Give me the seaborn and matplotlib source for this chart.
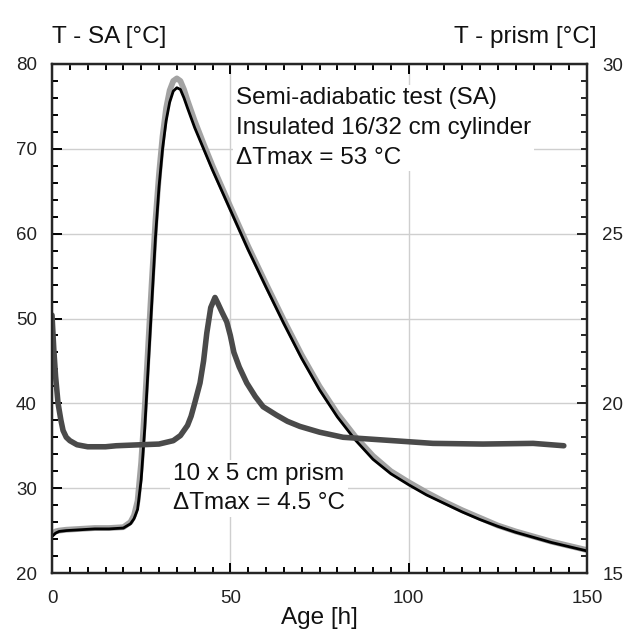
import matplotlib
matplotlib.use("Agg")
import matplotlib.pyplot as plt
from matplotlib.ticker import MultipleLocator
import seaborn as sns
import pandas as pd

# ---- data ----
age_sa = [0, 1, 2, 4, 8, 12, 16, 20, 22, 23, 24, 25, 26, 27, 28, 29, 30,
          31, 32, 33, 34, 35, 36, 37, 38, 40, 42.5, 45, 50, 55, 60, 65, 70,
          75, 80, 85, 90, 95, 100, 105, 110, 115, 120, 125, 130, 135, 140, 145, 150]
t_sa_model = [24.3, 24.7, 24.9, 25.0, 25.1, 25.2, 25.2, 25.3, 25.8, 26.4, 27.5, 31.0, 37.0,
              44.5, 52.0, 59.5, 65.5, 70.0, 73.3, 75.5, 76.8, 77.2, 77.0, 76.0, 74.8,
              72.5, 70.0, 67.5, 62.8, 58.1, 53.7, 49.4, 45.3, 41.6, 38.4, 35.7, 33.4,
              31.7, 30.4, 29.2, 28.2, 27.2, 26.3, 25.5, 24.8, 24.2, 23.6, 23.1, 22.6]
t_sa_meas = [24.6, 24.9, 25.0, 25.1, 25.2, 25.3, 25.3, 25.4, 26.0, 26.8, 28.5, 33.0, 39.5,
             47.0, 54.5, 61.5, 67.0, 71.5, 74.8, 76.9, 78.0, 78.3, 78.0, 77.0, 75.7,
             73.3, 70.6, 68.0, 63.2, 58.5, 54.1, 49.8, 45.7, 42.0, 38.8, 36.1, 33.8,
             32.0, 30.7, 29.5, 28.4, 27.4, 26.5, 25.6, 24.9, 24.3, 23.7, 23.2, 22.7]

age_prism = [0, 0.5, 1, 1.7, 2.5, 3.1, 4, 5, 7, 10, 15, 18, 25, 30, 32, 34, 36, 38, 39,
             40, 41.5, 42.5, 43.4, 44.5, 45.7, 46.5, 47.6, 49, 50, 51, 52.5, 54.6, 57,
             59.2, 63, 66, 69.5, 75, 81.6, 92.8, 106.8, 120.8, 134.9, 143.5]
t_prism = [22.6, 21.6, 20.8, 20.0, 19.5, 19.2, 19.0, 18.9, 18.78, 18.72, 18.72, 18.75,
           18.78, 18.8, 18.85, 18.9, 19.05, 19.35, 19.62, 20.0, 20.6, 21.25, 22.07,
           22.82, 23.12, 22.95, 22.7, 22.4, 22.0, 21.5, 21.07, 20.6, 20.2, 19.9, 19.65,
           19.47, 19.32, 19.15, 19.0, 18.92, 18.82, 18.8, 18.82, 18.75]

left_label = "T - SA [°C]"
right_label = "T - prism [°C]"
x_label = "Age [h]"
text_sa = "Semi-adiabatic test (SA)\nInsulated 16/32 cm cylinder\nΔTmax = 53 °C"
text_prism = "10 x 5 cm prism\nΔTmax = 4.5 °C"

df_sa = pd.DataFrame({"age": age_sa, "model": t_sa_model, "meas": t_sa_meas})
df_pr = pd.DataFrame({"age": age_prism, "T": t_prism})

sns.set_style("ticks")
plt.rcParams["font.family"] = ["Liberation Sans", "DejaVu Sans"]

W, H = 623, 632
fig = plt.figure(figsize=(W / 100, H / 100), dpi=100)
ax = fig.add_axes([52 / W, 1 - 573 / H, 535 / W, 509 / H])

sns.lineplot(data=df_sa, x="age", y="meas", ax=ax, color="#a3a3a3", linewidth=4.2,
             estimator=None, sort=False, zorder=2)
sns.lineplot(data=df_sa, x="age", y="model", ax=ax, color="#000000", linewidth=2.0,
             estimator=None, sort=False, zorder=2.5)

ax.set_xlim(0, 150)
ax.set_ylim(20, 80)
ax.xaxis.set_major_locator(MultipleLocator(50))
ax.xaxis.set_minor_locator(MultipleLocator(5))
ax.yaxis.set_major_locator(MultipleLocator(10))
ax.yaxis.set_minor_locator(MultipleLocator(2))
ax.grid(True, which="major", color="#cfcfcf", linewidth=1.0)
ax.set_axisbelow(True)
ax.tick_params(which="both", direction="in", top=True, right=False, width=1.4,
               colors="black", labelsize=13.5, labelcolor="#222222")
ax.tick_params(which="major", length=7)
ax.tick_params(which="minor", length=4)
ax.tick_params(axis="y", pad=11)
ax.tick_params(axis="x", pad=12)
ax.set_xlabel(x_label, fontsize=17.5, labelpad=0, color="#111111")
ax.set_ylabel("")
for s in ax.spines.values():
    s.set_linewidth(1.6)
    s.set_color("black")

ax2 = ax.twinx()
sns.lineplot(data=df_pr, x="age", y="T", ax=ax2, color="#4a4a4a", linewidth=4.0,
             estimator=None, sort=False)
ax2.set_ylim(15, 30)
ax2.yaxis.set_major_locator(MultipleLocator(5))
ax2.yaxis.set_minor_locator(MultipleLocator(0.5))
ax2.tick_params(which="both", direction="in", width=1.4, labelsize=13.5,
                labelcolor="#222222", pad=11)
ax2.tick_params(which="major", length=7)
ax2.tick_params(which="minor", length=4)
ax2.set_ylabel("")
ax2.set_xlabel(x_label, fontsize=17.5, labelpad=0, color="#111111")
for s in ax2.spines.values():
    s.set_linewidth(1.6)

box = dict(facecolor="white", edgecolor="none", pad=2)
# va="baseline" on multi-line text anchors the last line's baseline
ax2.text(51.6, 68.25, text_sa, transform=ax.transData, fontsize=17.5, va="baseline",
         ha="left", color="#111111", bbox=box, zorder=5, linespacing=1.45)
ax2.text(33.9, 27.5, text_prism, transform=ax.transData, fontsize=17.5, va="baseline",
         ha="left", color="#111111", bbox=box, zorder=5, linespacing=1.45)

fig.text(52 / W, 1 - 43 / H, left_label, ha="left", va="baseline", fontsize=17.5,
         color="#111111")
fig.text(597 / W, 1 - 43 / H, right_label, ha="right", va="baseline", fontsize=17.5,
         color="#111111")

fig.savefig("out.png", dpi=100)
